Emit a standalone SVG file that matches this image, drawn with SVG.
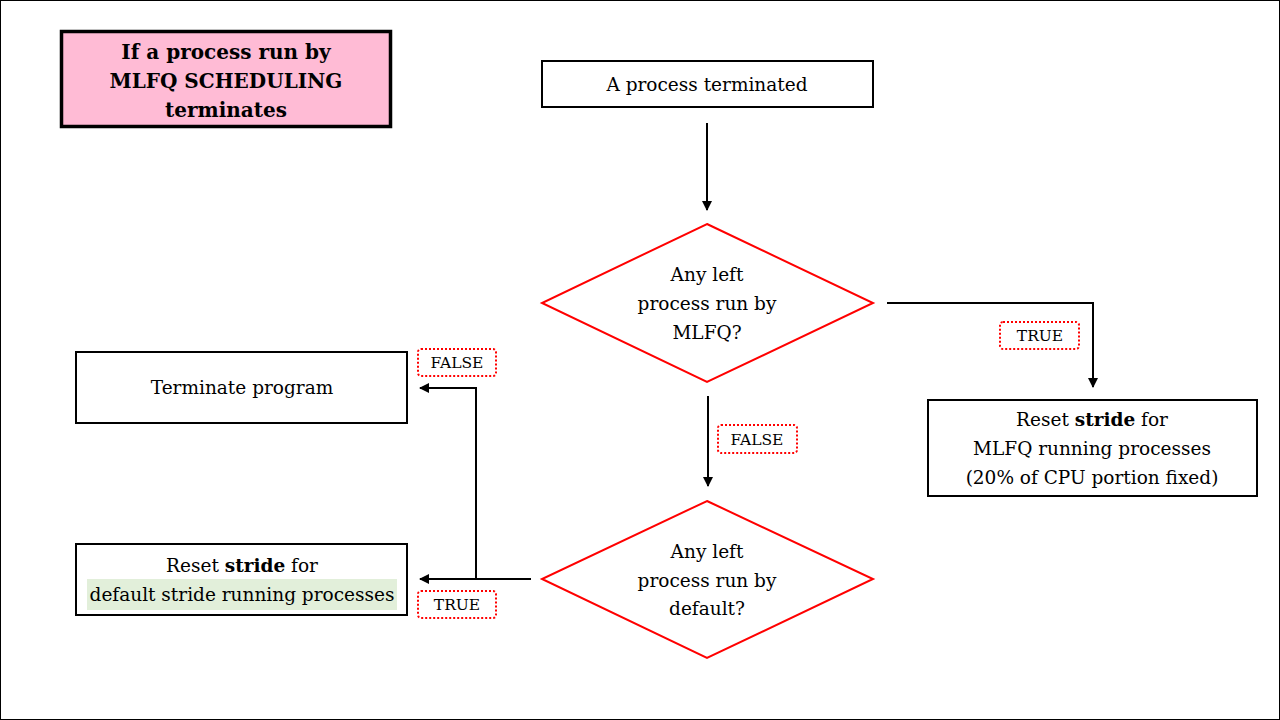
<svg xmlns="http://www.w3.org/2000/svg" width="1280" height="720" viewBox="0 0 1280 720">
<style>
text{font-family:'DejaVu Serif','Liberation Serif',serif;fill:#000;text-anchor:middle}
.t{font-size:18.5px}
.h{font-size:20px;font-weight:bold}
.b{font-weight:bold}
.box{fill:#fff;stroke:#000;stroke-width:2}
.dia{fill:#fff;stroke:#ff0000;stroke-width:2}
.lbl{fill:#fff;stroke:#ff0000;stroke-width:2;stroke-dasharray:2 2}
.lt{font-size:15.5px}
.con{fill:none;stroke:#000;stroke-width:2}
</style>
<defs>
<marker id="ah" viewBox="0 0 10 10" refX="9" refY="5" markerWidth="5" markerHeight="5" orient="auto" markerUnits="strokeWidth">
<path d="M0,0 L10,5 L0,10 z" fill="#000"/>
</marker>
</defs>
<rect x="0.5" y="0.5" width="1279" height="719" fill="#fff" stroke="#000" stroke-width="1"/>
<g id="title">
<rect x="61.5" y="31.5" width="329" height="95" fill="#ffbbd5" stroke="#000" stroke-width="3.5"/>
<text class="h" x="226" y="59">If a process run by</text>
<text class="h" x="226" y="88">MLFQ SCHEDULING</text>
<text class="h" x="226" y="117">terminates</text>
</g>
<g id="connectors">
<line class="con" x1="707" y1="123" x2="707" y2="210" marker-end="url(#ah)"/>
<polyline class="con" points="887,303 1093,303 1093,387" marker-end="url(#ah)"/>
<line class="con" x1="708" y1="396" x2="708" y2="486" marker-end="url(#ah)"/>
<line class="con" x1="531" y1="579" x2="420" y2="579" marker-end="url(#ah)"/>
<polyline class="con" points="476,579 476,388 420,388" marker-end="url(#ah)"/>
</g>
<g id="start">
<rect class="box" x="542" y="61" width="331" height="46"/>
<text class="t" x="707" y="91">A process terminated</text>
</g>
<g id="decision1">
<polygon class="dia" points="707,224 873,303 707,382 542,303"/>
<text class="t" x="707" y="281">Any left</text>
<text class="t" x="707" y="310">process run by</text>
<text class="t" x="707" y="339">MLFQ?</text>
</g>
<g id="resetMLFQ">
<rect class="box" x="928" y="400" width="329" height="96"/>
<text class="t" x="1092" y="426">Reset <tspan class="b">stride</tspan> for</text>
<text class="t" x="1092" y="455">MLFQ running processes</text>
<text class="t" x="1092" y="484">(20% of CPU portion fixed)</text>
</g>
<g id="decision2">
<polygon class="dia" points="707,501 873,579 707,658 542,579"/>
<text class="t" x="707" y="558">Any left</text>
<text class="t" x="707" y="587">process run by</text>
<text class="t" x="707" y="615">default?</text>
</g>
<g id="terminate">
<rect class="box" x="76" y="352" width="331" height="71"/>
<text class="t" x="242" y="394">Terminate program</text>
</g>
<g id="resetDefault">
<rect class="box" x="76" y="544" width="331" height="71"/>
<rect x="87" y="579" width="310" height="31" fill="#e2efda"/>
<text class="t" x="242" y="572">Reset <tspan class="b">stride</tspan> for</text>
<text class="t" x="242" y="601">default stride running processes</text>
</g>
<g id="lblTrue1">
<rect class="lbl" x="1000" y="322" width="79" height="27" rx="3"/>
<text class="lt" x="1040" y="341">TRUE</text>
</g>
<g id="lblFalse1">
<rect class="lbl" x="718" y="425" width="79" height="28" rx="3"/>
<text class="lt" x="757" y="445">FALSE</text>
</g>
<g id="lblFalse2">
<rect class="lbl" x="418" y="349" width="78" height="27" rx="3"/>
<text class="lt" x="457" y="368">FALSE</text>
</g>
<g id="lblTrue2">
<rect class="lbl" x="418" y="591" width="78" height="27" rx="3"/>
<text class="lt" x="457" y="610">TRUE</text>
</g>
</svg>
